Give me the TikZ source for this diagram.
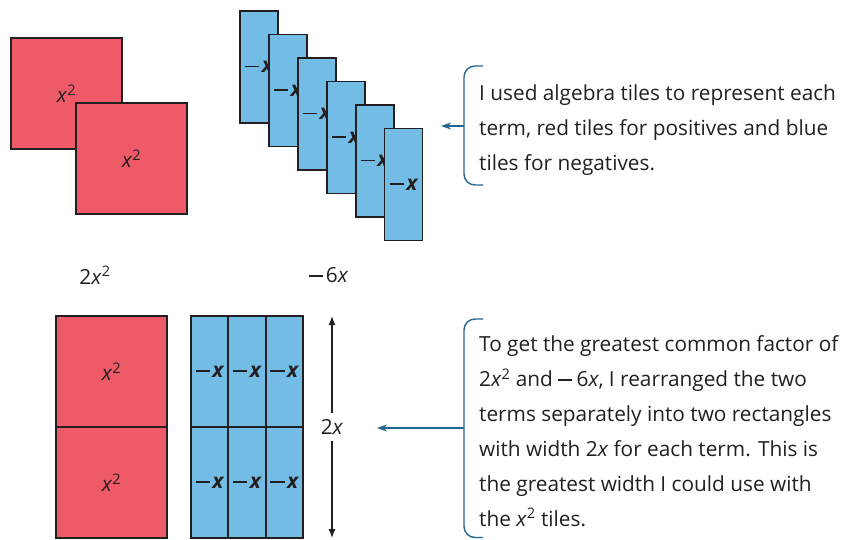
\documentclass[tikz,border=0pt]{standalone}
\usepackage{fontspec}
\setmainfont{Open Sans}
\usetikzlibrary{arrows.meta}
\definecolor{tilered}{RGB}{239,90,105}
\definecolor{tileblue}{RGB}{115,188,230}
\definecolor{ink}{RGB}{35,31,32}
\definecolor{callout}{RGB}{38,100,145}
\newcommand\xsq{\textit{x}\textsuperscript{2}}
\newcommand\longminus{\raisebox{0.27em}{\rule{0.68em}{0.075em}}}
\newcommand\mx{\longminus\kern0.12em{\bfseries\itshape x}}
\begin{document}
\begin{tikzpicture}[x=1pt,y=-1pt,
  every node/.style={text=ink, font=\fontsize{20.8}{34.9}\selectfont},
  tileborder/.style={draw=ink, line width=1.8pt},
  redtile/.style={fill=tilered, minimum width=111pt, minimum height=111pt, inner sep=0pt, outer sep=0pt},
  bluetile/.style={draw=ink, line width=1.8pt, fill=tileblue, minimum width=38pt, minimum height=112pt, inner sep=0pt, outer sep=0pt},
  bluecell/.style={fill=tileblue, minimum width=37.33pt, minimum height=111pt, inner sep=0pt, outer sep=0pt},
  bracket/.style={draw=callout, line width=1.4pt, rounded corners=11pt},
  calloutarrow/.style={draw=callout, line width=1.4pt, -{Stealth[length=10pt,width=7pt,inset=3pt]}},
  dimarrow/.style={draw=ink, line width=1.2pt, -{Latex[length=9pt,width=7pt]}},
  calltext/.style={anchor=north west, align=left, inner sep=0pt}]
\useasboundingbox (0,0) rectangle (853,539);

% top red squares
\node[redtile, draw=ink, line width=1.8pt] (sq1) at (66.5,93.5) {\xsq};
\node[redtile, draw=ink, line width=1.8pt] (sq2) at (131.5,158.5) {\xsq};
\node (lbl2xsq) at (95,275) {2\xsq};

% top blue tiles
\foreach \i in {0,...,5} {
  \node[bluetile] (bt\i) at ({259+28.9*\i},{67+23.5*\i}) {\mx};
}
\node (lblm6x) at (328.5,275) {\longminus\kern0.15em6\textit{x}};

% bottom red rectangle
\node[redtile] (r1) at (111.5,371.5) {\xsq};
\node[redtile] (r2) at (111.5,482.5) {\xsq};
\foreach \n in {r1,r2} { \draw[tileborder] (\n.south west) rectangle (\n.north east); }

% bottom blue grid
\foreach \c/\xx in {0/209.67,1/247,2/284.33} {
  \node[bluecell] (ca\c) at (\xx,371.5) {\mx};
  \node[bluecell] (cb\c) at (\xx,482.5) {\mx};
}
\foreach \n in {ca0,ca1,ca2,cb0,cb1,cb2} { \draw[tileborder] (\n.south west) rectangle (\n.north east); }

% dimension arrow
\node[fill=white, inner sep=1pt, minimum height=28pt] (lbl2x) at (332,427) {2\textit{x}};
\coordinate (dtop) at (332,316);
\coordinate (dbot) at (332,538);
\draw[dimarrow] (lbl2x) -- (dtop);
\draw[dimarrow] (lbl2x) -- (dbot);

% callout 1
\draw[bracket] (483,66) -- (464,66) -- (464,185) -- (483,185);
\coordinate (c1from) at (464,126);
\coordinate (c1to) at (441,126);
\draw[calloutarrow] (c1from) -- (c1to);
\node[calltext] (txt1) at (479,84.5) {I used algebra tiles to represent each\\term, red tiles for positives and blue\\tiles for negatives.};

% callout 2
\draw[bracket] (483,319) -- (464,319) -- (464,537.5) -- (483,537.5);
\coordinate (c2from) at (464,428);
\coordinate (c2to) at (377,428);
\draw[calloutarrow] (c2from) -- (c2to);
\node[calltext] (txt2) at (479,335.5) {To get the greatest common factor of\\2\xsq{} and \longminus\kern0.2em6\textit{x}, I rearranged the two\\terms separately into two rectangles\\with width 2\textit{x} for each term. This is\\the greatest width I could use with\\the \xsq{} tiles.};
\end{tikzpicture}
\end{document}
